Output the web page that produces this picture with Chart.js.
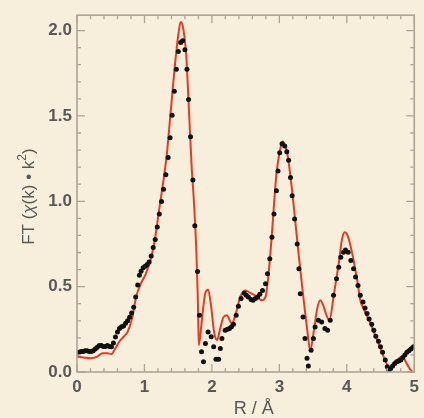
<!DOCTYPE html>
<html>
<head>
<meta charset="utf-8">
<script src="https://cdn.jsdelivr.net/npm/chart.js@4.4.1/dist/chart.umd.min.js"></script>
<style>
  html, body { margin: 0; padding: 0; background: #f7efdc; }
  #wrap { position: relative; width: 424px; height: 418px; }
</style>
</head>
<body>
<div id="wrap"><canvas id="c" width="424" height="418"></canvas></div>
<script>
// ---- data (R in Å, FT magnitude) ----
const fitR = [0.00,0.10,0.20,0.30,0.38,0.45,0.51,0.57,0.63,0.70,0.75,0.82,0.876,0.95,1.02,1.10,1.16,1.21,1.27,1.33,1.39,1.45,1.50,1.537,1.58,1.62,1.66,1.70,1.733,1.77,1.79,1.806,1.85,1.90,1.943,1.99,2.03,2.075,2.12,2.17,2.22,2.295,2.36,2.42,2.49,2.56,2.64,2.74,2.795,2.83,2.88,2.956,3.00,3.05,3.09,3.128,3.20,3.275,3.35,3.42,3.455,3.52,3.56,3.607,3.65,3.69,3.74,3.81,3.886,3.93,3.97,4.01,4.06,4.155,4.20,4.25,4.35,4.47,4.60,4.645,4.72,4.82,4.90,4.96,5.00];
const fitFT = [0.09,0.085,0.08,0.09,0.11,0.11,0.105,0.14,0.18,0.21,0.235,0.32,0.44,0.52,0.575,0.67,0.79,0.93,1.09,1.27,1.53,1.79,1.97,2.05,2.00,1.85,1.53,1.20,1.00,0.70,0.45,0.157,0.30,0.46,0.482,0.38,0.24,0.187,0.25,0.32,0.332,0.284,0.35,0.44,0.478,0.465,0.449,0.42,0.44,0.536,0.76,1.158,1.28,1.35,1.32,1.255,1.022,0.73,0.459,0.225,0.128,0.264,0.37,0.42,0.39,0.342,0.303,0.459,0.653,0.78,0.818,0.80,0.73,0.536,0.42,0.37,0.284,0.167,0.041,0.021,0.06,0.09,0.04,0.005,0.0];

const expR = [0.00,0.03,0.06,0.09,0.12,0.15,0.18,0.21,0.24,0.27,0.30,0.33,0.36,0.39,0.42,0.45,0.48,0.51,0.54,0.57,0.60,0.63,0.66,0.69,0.72,0.75,0.78,0.81,0.84,0.87,0.90,0.925,0.95,0.98,1.01,1.04,1.07,1.10,1.13,1.16,1.19,1.22,1.253,1.282,1.317,1.351,1.38,1.41,1.443,1.473,1.502,1.537,1.566,1.60,1.63,1.654,1.683,1.718,1.747,1.787,1.816,1.846,1.875,1.904,1.943,1.99,2.026,2.06,2.10,2.125,2.148,2.197,2.23,2.261,2.29,2.32,2.36,2.393,2.433,2.48,2.51,2.54,2.58,2.61,2.645,2.677,2.71,2.75,2.795,2.824,2.858,2.89,2.92,2.956,2.98,3.005,3.04,3.08,3.11,3.137,3.165,3.19,3.226,3.265,3.29,3.31,3.35,3.38,3.41,3.43,3.47,3.505,3.53,3.578,3.627,3.675,3.715,3.754,3.803,3.847,3.88,3.91,3.95,3.98,4.02,4.06,4.10,4.13,4.166,4.20,4.24,4.27,4.30,4.33,4.37,4.40,4.43,4.47,4.50,4.53,4.57,4.60,4.62,4.65,4.68,4.71,4.74,4.77,4.80,4.83,4.86,4.89,4.92,4.95,4.98,5.00];
const expFT = [0.11,0.115,0.12,0.12,0.125,0.125,0.12,0.12,0.125,0.135,0.145,0.155,0.155,0.15,0.15,0.155,0.15,0.148,0.17,0.205,0.235,0.255,0.265,0.27,0.285,0.30,0.32,0.345,0.38,0.44,0.51,0.566,0.59,0.61,0.62,0.63,0.645,0.68,0.73,0.776,0.85,0.925,0.999,1.071,1.155,1.256,1.372,1.504,1.644,1.774,1.878,1.93,1.94,1.887,1.774,1.596,1.378,1.124,0.857,0.589,0.332,0.118,0.06,0.167,0.235,0.206,0.148,0.074,0.074,0.138,0.196,0.245,0.25,0.255,0.265,0.28,0.332,0.385,0.43,0.462,0.45,0.44,0.425,0.42,0.43,0.44,0.455,0.478,0.517,0.575,0.663,0.79,0.925,1.061,1.178,1.285,1.337,1.324,1.29,1.24,1.14,1.032,0.896,0.75,0.605,0.459,0.322,0.196,0.08,0.035,0.128,0.196,0.264,0.303,0.293,0.255,0.245,0.303,0.449,0.546,0.614,0.672,0.701,0.715,0.701,0.653,0.605,0.556,0.507,0.449,0.41,0.375,0.342,0.31,0.28,0.245,0.21,0.18,0.148,0.115,0.07,0.031,0.008,0.02,0.035,0.05,0.06,0.065,0.07,0.085,0.10,0.115,0.125,0.135,0.145,0.15];

const xTickLabels = ['0','1','2','3','4','5'];
const yTickLabels = ['0.0','0.5','1.0','1.5','2.0'];
const xTitle = 'R / Å';

const FRAME = '#aca596';
const TEXT = '#585858';
const FAMILY = '"Liberation Sans", Arial, sans-serif';

const boxTicks = {
  id: 'boxTicks',
  afterDraw(chart) {
    const { ctx, chartArea: a, scales: { x, y } } = chart;
    ctx.save();
    ctx.strokeStyle = FRAME;
    ctx.lineWidth = 1.6;
    ctx.strokeRect(a.left, a.top, a.right - a.left, a.bottom - a.top);
    ctx.lineWidth = 1.3;
    ctx.beginPath();
    for (let i = 0; i <= 25; i++) {
      const v = i * 0.2;
      const px = x.getPixelForValue(v);
      const L = (i % 5 === 0) ? 8 : 4;
      ctx.moveTo(px, a.bottom); ctx.lineTo(px, a.bottom - L);
      ctx.moveTo(px, a.top); ctx.lineTo(px, a.top + L);
    }
    for (let i = 0; i <= 20; i++) {
      const v = i * 0.1;
      const py = y.getPixelForValue(v);
      const L = (i % 5 === 0) ? 8 : 4;
      ctx.moveTo(a.left, py); ctx.lineTo(a.left + L, py);
      ctx.moveTo(a.right, py); ctx.lineTo(a.right - L, py);
    }
    ctx.stroke();

    // x-axis title
    ctx.fillStyle = TEXT;
    ctx.textAlign = 'center';
    ctx.textBaseline = 'middle';
    ctx.font = '18px ' + FAMILY;
    ctx.fillText(xTitle, (a.left + a.right) / 2 + 8, 409);

    // y-axis title with italic chi
    const cy = (a.top + a.bottom) / 2 + 3;
    ctx.translate(29, cy);
    ctx.rotate(-Math.PI / 2);
    ctx.textAlign = 'left';
    const fN = '17px ' + FAMILY;
    const fI = 'italic 17px ' + FAMILY;
    const fS = '12px ' + FAMILY;
    const parts = [['FT (', fN, 0], ['χ', fI, 0], ['(k) • k', fN, 0], ['2', fS, -6], [')', fN, 0]];
    let w = 0;
    parts.forEach(p => { ctx.font = p[1]; w += ctx.measureText(p[0]).width; });
    let cx = -w / 2;
    parts.forEach(p => { ctx.font = p[1]; ctx.fillText(p[0], cx, p[2]); cx += ctx.measureText(p[0]).width; });
    ctx.restore();
  }
};

const bgPlugin = {
  id: 'bg',
  beforeDraw(chart) {
    const ctx = chart.ctx;
    ctx.save();
    ctx.fillStyle = '#f7efdc';
    ctx.fillRect(0, 0, chart.width, chart.height);
    ctx.restore();
  }
};

const tickFont = { family: FAMILY, size: 17, weight: 'bold' };

new Chart(document.getElementById('c'), {
  type: 'scatter',
  data: {
    datasets: [
      {
        label: 'data',
        data: expR.map((r, i) => ({ x: r, y: expFT[i] })),
        showLine: false,
        pointRadius: 2.5,
        pointBackgroundColor: '#111',
        pointBorderWidth: 0,
        order: 1
      },
      {
        label: 'fit',
        data: fitR.map((r, i) => ({ x: r, y: fitFT[i] })),
        showLine: true,
        borderColor: '#e63a22',
        borderWidth: 2,
        pointRadius: 0,
        cubicInterpolationMode: 'monotone',
        order: 2
      }
    ]
  },
  options: {
    responsive: false,
    animation: false,
    layout: { padding: { top: 13, right: 7, left: 0, bottom: 0 } },
    plugins: { legend: { display: false }, tooltip: { enabled: false } },
    scales: {
      x: {
        type: 'linear', min: 0, max: 5,
        grid: { display: false, drawTicks: false },
        border: { display: false },
        ticks: {
          stepSize: 1, includeBounds: false, padding: 5, color: TEXT, font: tickFont,
          callback: (v) => xTickLabels[Math.round(v)] ?? ''
        },
        title: { display: false },
        afterFit: (s) => { s.height = 46; }
      },
      y: {
        type: 'linear', min: 0, max: 2.09,
        grid: { display: false, drawTicks: false },
        border: { display: false },
        ticks: {
          stepSize: 0.5, includeBounds: false, padding: 5, color: TEXT, font: tickFont,
          callback: (v) => yTickLabels[Math.round(v * 2)] ?? ''
        },
        afterFit: (s) => { s.width = 77; }
      }
    }
  },
  plugins: [bgPlugin, boxTicks]
});
</script>
</body>
</html>
